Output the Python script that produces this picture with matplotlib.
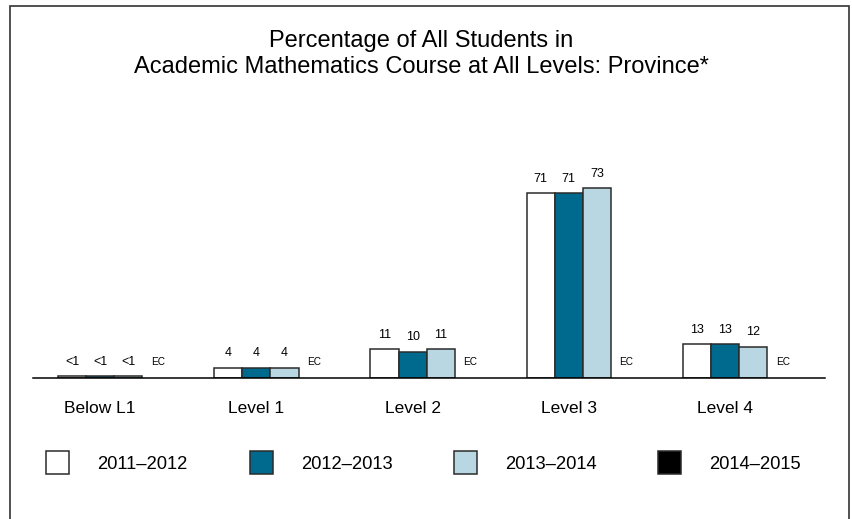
import matplotlib.pyplot as plt
from matplotlib.patches import Rectangle
import numpy as np

plt.rcParams['font.family'] = ['Liberation Sans', 'DejaVu Sans']

categories = ['Below L1', 'Level 1', 'Level 2', 'Level 3', 'Level 4']
years = ['2011\u20132012', '2012\u20132013', '2013\u20132014', '2014\u20132015']
colors = ['#ffffff', '#006a8e', '#b9d7e2', '#000000']

# values below 1 are shown as "<1"; None = no data (EC)
vals_2011 = [0.6, 4, 11, 71, 13]
vals_2012 = [0.6, 4, 10, 71, 13]
vals_2013 = [0.6, 4, 11, 73, 12]
vals_2014 = [None, None, None, None, None]
series = [vals_2011, vals_2012, vals_2013, vals_2014]

W, H = 852, 519
fig = plt.figure(figsize=(W / 100, H / 100), dpi=100)

# axes placed in pixel terms
left, right, base, top = 33, 825, 378, 128
ax = fig.add_axes([left / W, (H - base) / H, (right - left) / W, (base - top) / H])
ax.set_xlim(-0.43, 4.64)
ax.set_ylim(0, (base - top) / 2.6)

x = np.arange(len(categories))
w = 0.18
for i, (vals, c) in enumerate(zip(series, colors)):
    xpos = x + (i - 1) * w
    for xp, v in zip(xpos, vals):
        if v is None:
            ax.annotate('EC', (xp + 0.01, 0), xytext=(0, 9.4), textcoords='offset points',
                        ha='center', va='baseline', fontsize=7.2)
            continue
        ax.bar(xp, v, width=w, color=c, edgecolor='#2b2b2b', linewidth=1.1)
        lab = '<1' if v < 1 else f'{v:g}'
        ax.annotate(lab, (xp, v), xytext=(0, 8.4), textcoords='offset points',
                    ha='center', va='baseline', fontsize=9)

for xc, name in zip(x, categories):
    ax.annotate(name, (xc, 0), xycoords=('data', 'axes fraction'), xytext=(0, -25.5),
                textcoords='offset points', ha='center', va='baseline', fontsize=12.5)

for s in ['top', 'right', 'left']:
    ax.spines[s].set_visible(False)
ax.spines['bottom'].set_linewidth(1.1)
ax.spines['bottom'].set_color('black')
ax.set_xticks([])
ax.set_yticks([])
ax.patch.set_alpha(0)

fig.text(421 / W, 1 - 54 / H,
         'Percentage of All Students in\nAcademic Mathematics Course at All Levels: Province*',
         ha='center', va='center', fontsize=17)

# legend
for k, (yr, c) in enumerate(zip(years, colors)):
    x0 = 46 + 204 * k
    fig.patches.append(Rectangle((x0 / W, 45 / H), 23 / W, 23 / H, transform=fig.transFigure,
                                 facecolor=c, edgecolor='#2b2b2b', linewidth=1.1))
    fig.text((x0 + 51) / W, 50 / H, yr, ha='left', va='baseline', fontsize=13.2)

# outer frame
fig.patches.append(Rectangle((10 / W, -10 / H), 839 / W, (H - 6 + 10) / H, transform=fig.transFigure,
                             facecolor='none', edgecolor='#333333', linewidth=1.2))

fig.savefig('out.png', dpi=100)
